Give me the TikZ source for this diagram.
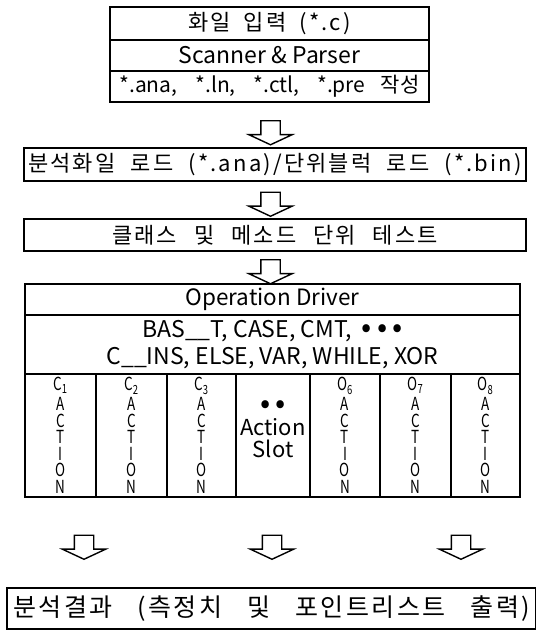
\documentclass[tikz,border=0pt]{standalone}
\usepackage{fontspec}
\setmainfont{Noto Sans CJK KR}
\newfontfamily\spaced{Noto Sans CJK KR}[LetterSpace=10]
\newfontfamily\narrow{Noto Sans CJK KR}[FakeStretch=0.75]
\newcommand{\spreadto}[2]{\makebox[#1][s]{#2}}
\newcommand{\bigdot}{\smash{\fontsize{30}{27}\selectfont\textbullet}}
\usetikzlibrary{positioning,shapes.arrows}

\begin{document}
\begin{tikzpicture}[x=1pt, y=-1pt, line width=1.4pt,
  every node/.style = {shape=rectangle, draw, align=center,
    inner sep=0pt, outer sep=0pt},
  stage/.style = {minimum width=319pt, font=\fontsize{23}{25}\selectfont},
  wide/.style = {font=\spaced\fontsize{22}{24}\selectfont},
  slot/.style = {minimum height=123pt, font=\narrow\fontsize{18}{16.6}\selectfont},
  down/.style = {single arrow, fill=white, rotate=-90,
    minimum height=24pt, minimum width=42pt, inner xsep=0pt, inner ysep=9pt,
    single arrow head extend=12pt, single arrow tip angle=130,
    single arrow head indent=0pt}]

  \useasboundingbox (0,0) rectangle (536,630);

  % input file and parser
  \node[stage, minimum height=33pt] (input) at (269.5,23.5)
    {\spaced\fontsize{22}{24}\selectfont\spreadto{162pt}{화일 입력 (*.c)}};
  \node[stage, minimum height=31pt, below=0pt of input] (parser) {Scanner \& Parser};
  \node[stage, minimum height=31pt, below=0pt of parser, font=\fontsize{21}{24}\selectfont] (files)
    {\spreadto{300pt}{*.ana, *.ln, *.ctl, *.pre 작성}};

  % loading and unit test
  \node[wide, minimum width=502pt, minimum height=33pt] (load) at (275,164.5)
    {\spreadto{494pt}{분석화일 로드 (*.ana)/단위블럭 로드 (*.bin)}};
  \node[wide, minimum width=502pt, minimum height=32pt] (test) at (275,235)
    {\spreadto{326pt}{클래스 및 메소드 단위 테스트}};

  % operation driver
  \node[minimum width=495pt, minimum height=31pt, font=\fontsize{22.5}{24}\selectfont] (driver) at (272.5,299.5) {Operation Driver};
  \node[minimum width=495pt, minimum height=59pt, font=\fontsize{23}{27}\selectfont, below=0pt of driver] (ops)
    {BAS\_\_T, CASE, CMT, \ \bigdot\ \bigdot\ \bigdot\\C\_\_INS, ELSE, VAR, WHILE, XOR};

  % action slots
  \foreach \i/\xl/\xr/\lbl in {1/25/96/C\textsubscript{1}, 2/96/167/C\textsubscript{2},
      3/167/236/C\textsubscript{3}, 5/310/380/O\textsubscript{6},
      6/380/451/O\textsubscript{7}, 7/451/520/O\textsubscript{8}}
    \node[slot, minimum width=\xr pt-\xl pt] (slot\i) at ({(\xl+\xr)/2},435.5) {\lbl\\[3pt]A\\C\\T\\I\\O\\N};
  \node[slot, minimum width=74pt, font=\fontsize{22}{22}\selectfont] (slot4) at (273,435.5)
    {\bigdot\ \bigdot\\Action\\Slot};

  % result
  \node[minimum width=529pt, minimum height=41pt, font=\spaced\fontsize{25}{28}\selectfont] (result) at (271.5,608.5)
    {\spreadto{517pt}{분석결과 (측정치 및 포인트리스트 출력)}};

  % flow arrows
  \node[down] (a1) at (270.5,130.5) {};
  \node[down] (a2) at (270.5,202) {};
  \node[down] (a3) at (270.5,269.5) {};
  \node[down] (a4) at (84,545) {};
  \node[down] (a5) at (272,545) {};
  \node[down] (a6) at (461,545) {};
\end{tikzpicture}
\end{document}
